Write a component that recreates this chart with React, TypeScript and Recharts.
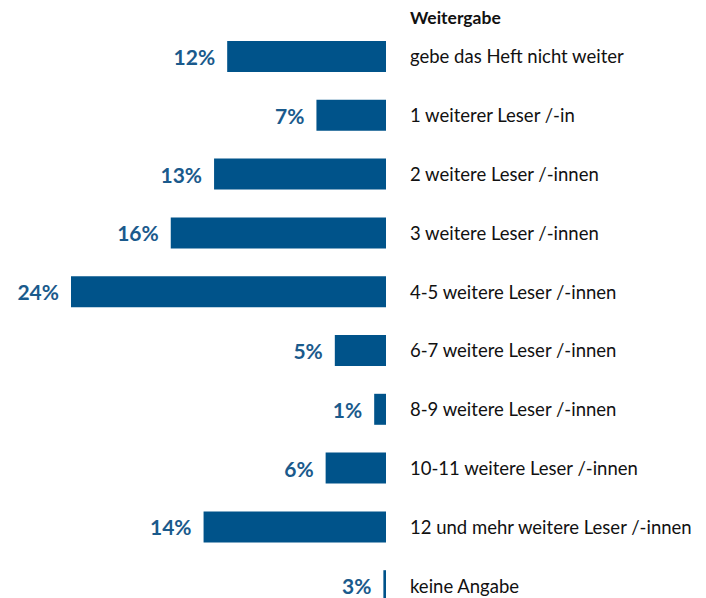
import { BarChart, Bar, XAxis, YAxis, LabelList } from "recharts";

// Answer categories, printed shares and bar lengths as drawn in the source
const categories = [
  "gebe das Heft nicht weiter",
  "1 weiterer Leser /-in",
  "2 weitere Leser /-innen",
  "3 weitere Leser /-innen",
  "4-5 weitere Leser /-innen",
  "6-7 weitere Leser /-innen",
  "8-9 weitere Leser /-innen",
  "10-11 weitere Leser /-innen",
  "12 und mehr weitere Leser /-innen",
  "keine Angabe",
];
const shares = [12, 7, 13, 16, 24, 5, 1, 6, 14, 3];
const barLengths = [12.1, 5.3, 13.1, 16.4, 24, 3.9, 0.9, 4.6, 13.9, 0.2];

const BAR_COLOR = "#00538A";
const LABEL_COLOR = "#1A5A8C";
const FONT = "Lato, 'Noto Sans', sans-serif";

const data = categories.map((label, i) => ({
  label,
  share: shares[i],
  length: barLengths[i],
}));

const ShareLabel = (props: any) => {
  const { x, y, width, height, value } = props;
  const left = Math.min(x, x + width);
  return (
    <text
      x={left - 12}
      y={y + height / 2}
      textAnchor="end"
      dominantBaseline="central"
      fill={LABEL_COLOR}
      fontFamily={FONT}
      fontWeight={700}
      fontSize={21}
    >
      {value}%
    </text>
  );
};

const CategoryTick = (props: any) => {
  const { x, y, payload } = props;
  return (
    <text
      x={x}
      y={y}
      textAnchor="start"
      dominantBaseline="central"
      fill="#111"
      fontFamily={FONT}
      fontSize={18.5}
    >
      {payload.value}
    </text>
  );
};

export default function App() {
  return (
    <div
      style={{
        position: "absolute",
        top: 0,
        left: 0,
        width: 706,
        height: 598,
        overflow: "hidden",
        background: "#fff",
        fontFamily: FONT,
      }}
    >
      <div
        style={{
          position: "absolute",
          left: 410,
          top: 7,
          fontSize: 17.5,
          fontWeight: 700,
          lineHeight: "22px",
          color: "#111",
        }}
      >
        Weitergabe
      </div>
      <BarChart
        width={706}
        height={615}
        data={data}
        layout="vertical"
        margin={{ top: 27, right: 0, bottom: 0, left: 71 }}
      >
        <XAxis type="number" hide domain={[0, 24]} reversed allowDataOverflow />
        <YAxis
          type="category"
          dataKey="label"
          orientation="right"
          width={320}
          axisLine={false}
          tickLine={false}
          tickSize={0}
          tickMargin={24}
          interval={0}
          tick={<CategoryTick />}
        />
        <Bar dataKey="length" fill={BAR_COLOR} barSize={31} isAnimationActive={false}>
          <LabelList dataKey="share" content={<ShareLabel />} />
        </Bar>
      </BarChart>
    </div>
  );
}
